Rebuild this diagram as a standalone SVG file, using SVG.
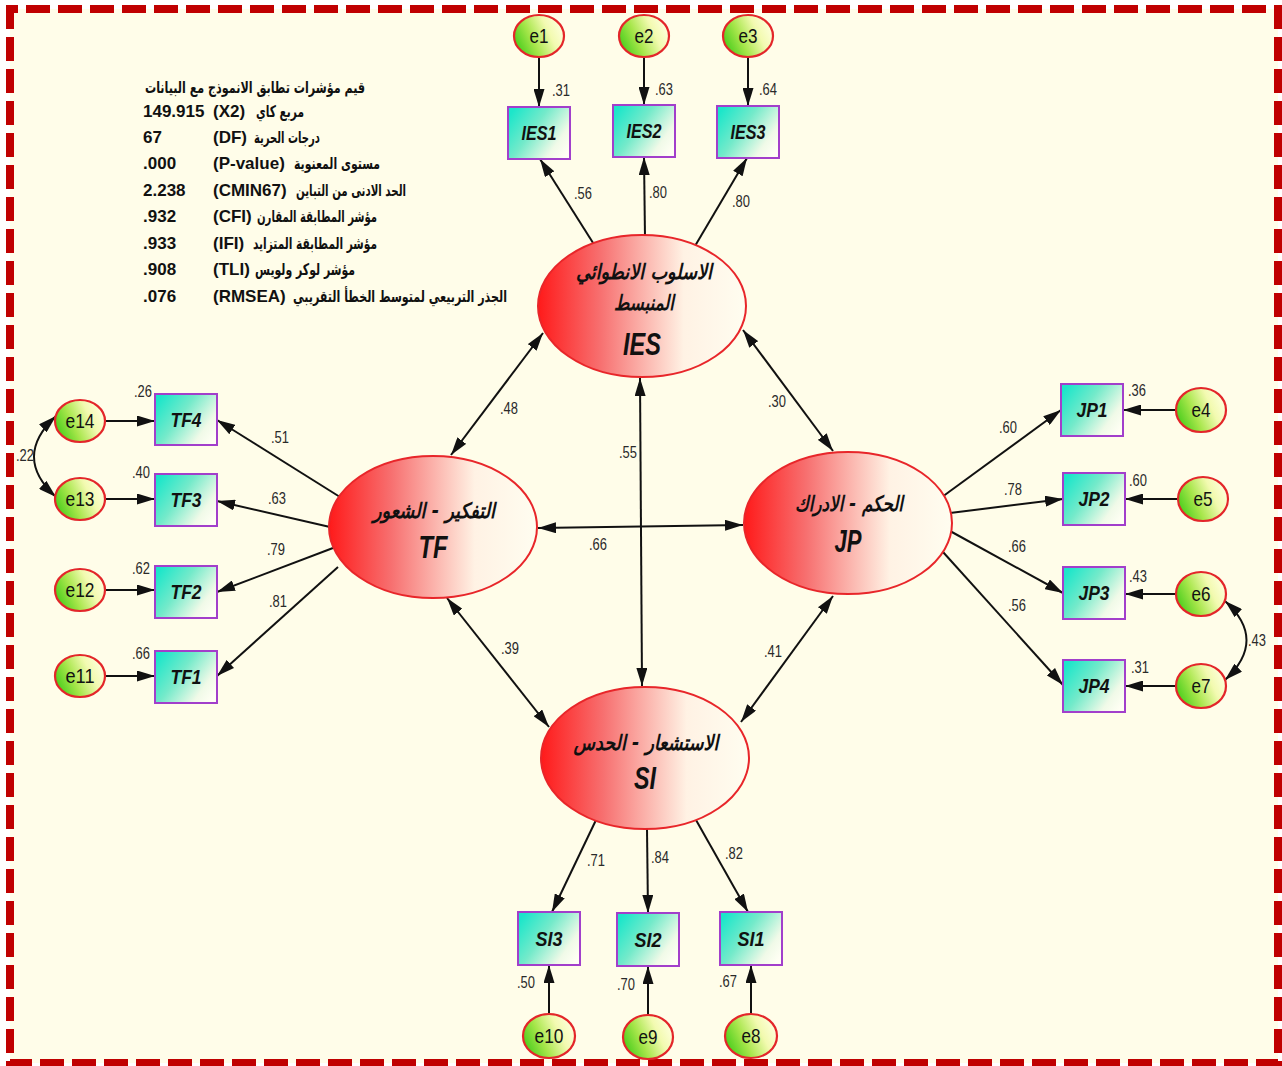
<svg xmlns="http://www.w3.org/2000/svg" width="1282" height="1066" viewBox="0 0 1282 1066">
  <defs>
    <linearGradient id="gLat" x1="0" y1="0" x2="1" y2="0">
      <stop offset="0" stop-color="#FF1A1A"/>
      <stop offset="0.3" stop-color="#F77070"/>
      <stop offset="0.7" stop-color="#FFF2E4"/>
      <stop offset="1" stop-color="#FFFDF0"/>
    </linearGradient>
    <linearGradient id="gBox" x1="0" y1="0.2" x2="1" y2="0.8">
      <stop offset="0" stop-color="#1CE6CA"/>
      <stop offset="0.4" stop-color="#74EACA"/>
      <stop offset="0.8" stop-color="#F0FAE8"/>
      <stop offset="1" stop-color="#FFFFF4"/>
    </linearGradient>
    <linearGradient id="gErr" x1="0" y1="0.7" x2="1" y2="0.3">
      <stop offset="0" stop-color="#44CC1A"/>
      <stop offset="0.35" stop-color="#A6E64A"/>
      <stop offset="0.7" stop-color="#F2FAB0"/>
      <stop offset="1" stop-color="#FFFFE0"/>
    </linearGradient>
    <marker id="ah" viewBox="0 0 18 11" refX="18" refY="5.5" markerWidth="18" markerHeight="11" markerUnits="userSpaceOnUse" orient="auto-start-reverse">
      <path d="M0,0 L18,5.5 L0,11 z" fill="#111"/>
    </marker>
  </defs>
  <style>
    .err ellipse{fill:url(#gErr);stroke:#E3262A;stroke-width:2.2}
    .obs rect{fill:url(#gBox);stroke:#A23FCB;stroke-width:2}
    .lat ellipse{fill:url(#gLat);stroke:#E8262A;stroke-width:2}
    #edges line,#edges path{stroke:#111;stroke-width:2;fill:none}
    .one{marker-end:url(#ah)}
    .two{marker-start:url(#ah);marker-end:url(#ah)}
    .num{font-family:"Liberation Sans",Arial,sans-serif;font-size:16px;fill:#2a2a2a;text-anchor:middle}
    .ev{font-family:"Liberation Sans",Arial,sans-serif;font-size:21px;fill:#111;text-anchor:middle}
    .ov{font-family:"Liberation Sans",Arial,sans-serif;font-size:21px;font-weight:bold;font-style:italic;fill:#111;text-anchor:middle}
    .lv{font-family:"Liberation Sans",Arial,sans-serif;font-size:32px;font-weight:bold;font-style:italic;fill:#111;text-anchor:middle}
    .ar{font-family:"DejaVu Sans","Noto Sans",sans-serif;font-size:21px;font-weight:bold;font-style:italic;fill:#111;text-anchor:middle}
    .fit{font-family:"Liberation Sans",Arial,sans-serif;font-size:17px;font-weight:bold;fill:#111}
    .fitar{font-family:"DejaVu Sans","Noto Sans",sans-serif;font-size:16px;font-weight:bold;fill:#111}
  </style>

  <!-- page and dashed frame -->
  <rect x="0" y="0" width="1282" height="1066" fill="#FFFFFF"/>
  <rect x="10" y="9" width="1268" height="1054" fill="#FFFDE9" stroke="#C00000" stroke-width="8" stroke-dasharray="24 8" stroke-dashoffset="16"/>

  <!-- model fit summary -->
  <g id="fit-summary">
    <text class="fitar" x="145" y="93" textLength="220" lengthAdjust="spacingAndGlyphs">قيم مؤشرات تطابق الانموذج مع البيانات</text>
    <text class="fit" x="143" y="117">149.915</text>
    <text class="fit" x="213" y="117">(X2)</text>
    <text class="fitar" x="256" y="117" textLength="48" lengthAdjust="spacingAndGlyphs">مربع كاي</text>
    <text class="fit" x="143" y="143">67</text>
    <text class="fit" x="213" y="143">(DF)</text>
    <text class="fitar" x="254" y="143" textLength="66" lengthAdjust="spacingAndGlyphs">درجات الحرية</text>
    <text class="fit" x="143" y="169">.000</text>
    <text class="fit" x="213" y="169">(P-value)</text>
    <text class="fitar" x="294" y="169" textLength="86" lengthAdjust="spacingAndGlyphs">مستوى المعنوية</text>
    <text class="fit" x="143" y="196">2.238</text>
    <text class="fit" x="213" y="196">(CMIN67)</text>
    <text class="fitar" x="296" y="196" textLength="110" lengthAdjust="spacingAndGlyphs">الحد الادنى من التباين</text>
    <text class="fit" x="143" y="222">.932</text>
    <text class="fit" x="213" y="222">(CFI)</text>
    <text class="fitar" x="257" y="222" textLength="120" lengthAdjust="spacingAndGlyphs">مؤشر المطابقة المقارن</text>
    <text class="fit" x="143" y="249">.933</text>
    <text class="fit" x="213" y="249">(IFI)</text>
    <text class="fitar" x="253" y="249" textLength="124" lengthAdjust="spacingAndGlyphs">مؤشر المطابقة المتزايد</text>
    <text class="fit" x="143" y="275">.908</text>
    <text class="fit" x="213" y="275">(TLI)</text>
    <text class="fitar" x="255" y="275" textLength="100" lengthAdjust="spacingAndGlyphs">مؤشر لوكر ولويس</text>
    <text class="fit" x="143" y="302">.076</text>
    <text class="fit" x="213" y="302">(RMSEA)</text>
    <text class="fitar" x="293" y="302" textLength="214" lengthAdjust="spacingAndGlyphs">الجذر التربيعي لمتوسط الخطأ التقريبي</text>
  </g>

  <!-- paths and covariances -->
  <g id="edges">
    <!-- error terms to indicators -->
    <line class="one" x1="539" y1="57" x2="539" y2="107"/>
    <line class="one" x1="644" y1="57" x2="644" y2="105"/>
    <line class="one" x1="748" y1="57" x2="748" y2="106"/>
    <line class="one" x1="105" y1="421" x2="155" y2="421"/>
    <line class="one" x1="105" y1="499" x2="155" y2="499"/>
    <line class="one" x1="105" y1="590" x2="155" y2="590"/>
    <line class="one" x1="105" y1="676" x2="155" y2="676"/>
    <line class="one" x1="1176" y1="410" x2="1123" y2="410"/>
    <line class="one" x1="1178" y1="499" x2="1125" y2="499"/>
    <line class="one" x1="1176" y1="594" x2="1125" y2="594"/>
    <line class="one" x1="1176" y1="686" x2="1125" y2="686"/>
    <line class="one" x1="549" y1="1014" x2="549" y2="965"/>
    <line class="one" x1="648" y1="1015" x2="648" y2="966"/>
    <line class="one" x1="751" y1="1014" x2="751" y2="965"/>
    <!-- loadings -->
    <line class="one" x1="595" y1="246" x2="540" y2="159"/>
    <line class="one" x1="645" y1="238" x2="644" y2="157"/>
    <line class="one" x1="695" y1="246" x2="747" y2="158"/>
    <line class="one" x1="340" y1="497" x2="217" y2="420"/>
    <line class="one" x1="330" y1="527" x2="217" y2="501"/>
    <line class="one" x1="333" y1="548" x2="217" y2="592"/>
    <line class="one" x1="338" y1="567" x2="217" y2="676"/>
    <line class="one" x1="942" y1="497" x2="1061" y2="410"/>
    <line class="one" x1="950" y1="513" x2="1063" y2="499"/>
    <line class="one" x1="950" y1="531" x2="1063" y2="593"/>
    <line class="one" x1="943" y1="552" x2="1063" y2="685"/>
    <line class="one" x1="596" y1="820" x2="552" y2="912"/>
    <line class="one" x1="647" y1="829" x2="648" y2="913"/>
    <line class="one" x1="696" y1="820" x2="748" y2="912"/>
    <!-- latent covariances -->
    <line class="two" x1="543" y1="333" x2="451" y2="455"/>
    <line class="two" x1="743" y1="330" x2="833" y2="451"/>
    <line class="two" x1="640" y1="378" x2="642" y2="686"/>
    <line class="two" x1="538" y1="528" x2="743" y2="525"/>
    <line class="two" x1="447" y1="598" x2="549" y2="727"/>
    <line class="two" x1="833" y1="596" x2="741" y2="722"/>
    <!-- error covariances -->
    <path class="two" d="M56,416 Q12,457 56,497"/>
    <path class="two" d="M1225,601 Q1268,640 1225,680"/>
  </g>

  <!-- path coefficients and squared multiple correlations -->
  <g id="estimates">
    <text class="num" x="561" y="96" textLength="18" lengthAdjust="spacingAndGlyphs">.31</text>
    <text class="num" x="664" y="95" textLength="18" lengthAdjust="spacingAndGlyphs">.63</text>
    <text class="num" x="768" y="95" textLength="18" lengthAdjust="spacingAndGlyphs">.64</text>
    <text class="num" x="583" y="199" textLength="18" lengthAdjust="spacingAndGlyphs">.56</text>
    <text class="num" x="658" y="198" textLength="18" lengthAdjust="spacingAndGlyphs">.80</text>
    <text class="num" x="741" y="207" textLength="18" lengthAdjust="spacingAndGlyphs">.80</text>
    <text class="num" x="509" y="414" textLength="18" lengthAdjust="spacingAndGlyphs">.48</text>
    <text class="num" x="777" y="407" textLength="18" lengthAdjust="spacingAndGlyphs">.30</text>
    <text class="num" x="628" y="458" textLength="18" lengthAdjust="spacingAndGlyphs">.55</text>
    <text class="num" x="598" y="550" textLength="18" lengthAdjust="spacingAndGlyphs">.66</text>
    <text class="num" x="510" y="654" textLength="18" lengthAdjust="spacingAndGlyphs">.39</text>
    <text class="num" x="773" y="657" textLength="18" lengthAdjust="spacingAndGlyphs">.41</text>
    <text class="num" x="143" y="397" textLength="18" lengthAdjust="spacingAndGlyphs">.26</text>
    <text class="num" x="141" y="478" textLength="18" lengthAdjust="spacingAndGlyphs">.40</text>
    <text class="num" x="141" y="574" textLength="18" lengthAdjust="spacingAndGlyphs">.62</text>
    <text class="num" x="141" y="659" textLength="18" lengthAdjust="spacingAndGlyphs">.66</text>
    <text class="num" x="25" y="461" textLength="18" lengthAdjust="spacingAndGlyphs">.22</text>
    <text class="num" x="280" y="443" textLength="18" lengthAdjust="spacingAndGlyphs">.51</text>
    <text class="num" x="277" y="504" textLength="18" lengthAdjust="spacingAndGlyphs">.63</text>
    <text class="num" x="276" y="555" textLength="18" lengthAdjust="spacingAndGlyphs">.79</text>
    <text class="num" x="278" y="607" textLength="18" lengthAdjust="spacingAndGlyphs">.81</text>
    <text class="num" x="1137" y="396" textLength="18" lengthAdjust="spacingAndGlyphs">.36</text>
    <text class="num" x="1138" y="486" textLength="18" lengthAdjust="spacingAndGlyphs">.60</text>
    <text class="num" x="1138" y="582" textLength="18" lengthAdjust="spacingAndGlyphs">.43</text>
    <text class="num" x="1140" y="673" textLength="18" lengthAdjust="spacingAndGlyphs">.31</text>
    <text class="num" x="1257" y="646" textLength="18" lengthAdjust="spacingAndGlyphs">.43</text>
    <text class="num" x="1008" y="433" textLength="18" lengthAdjust="spacingAndGlyphs">.60</text>
    <text class="num" x="1013" y="495" textLength="18" lengthAdjust="spacingAndGlyphs">.78</text>
    <text class="num" x="1017" y="552" textLength="18" lengthAdjust="spacingAndGlyphs">.66</text>
    <text class="num" x="1017" y="611" textLength="18" lengthAdjust="spacingAndGlyphs">.56</text>
    <text class="num" x="596" y="866" textLength="18" lengthAdjust="spacingAndGlyphs">.71</text>
    <text class="num" x="660" y="863" textLength="18" lengthAdjust="spacingAndGlyphs">.84</text>
    <text class="num" x="734" y="859" textLength="18" lengthAdjust="spacingAndGlyphs">.82</text>
    <text class="num" x="526" y="988" textLength="18" lengthAdjust="spacingAndGlyphs">.50</text>
    <text class="num" x="626" y="990" textLength="18" lengthAdjust="spacingAndGlyphs">.70</text>
    <text class="num" x="728" y="987" textLength="18" lengthAdjust="spacingAndGlyphs">.67</text>
  </g>

  <!-- latent factors -->
  <g id="IES" class="lat">
    <ellipse cx="642" cy="306" rx="104" ry="71"/>
    <text class="ar" x="644" y="279" textLength="136" lengthAdjust="spacingAndGlyphs">الاسلوب الانطوائي</text>
    <text class="ar" x="644" y="310" textLength="60" lengthAdjust="spacingAndGlyphs">المنبسط</text>
    <text class="lv" x="642" y="355" textLength="38" lengthAdjust="spacingAndGlyphs">IES</text>
  </g>
  <g id="TF" class="lat">
    <ellipse cx="433" cy="527" rx="104" ry="71"/>
    <text class="ar" x="434" y="518" textLength="122" lengthAdjust="spacingAndGlyphs">التفكير - الشعور</text>
    <text class="lv" x="433" y="558" textLength="29" lengthAdjust="spacingAndGlyphs">TF</text>
  </g>
  <g id="JP" class="lat">
    <ellipse cx="848" cy="523" rx="104" ry="71"/>
    <text class="ar" x="849" y="511" textLength="108" lengthAdjust="spacingAndGlyphs">الحكم - الادراك</text>
    <text class="lv" x="848" y="552" textLength="27" lengthAdjust="spacingAndGlyphs">JP</text>
  </g>
  <g id="SI" class="lat">
    <ellipse cx="645" cy="758" rx="104" ry="71"/>
    <text class="ar" x="646" y="750" textLength="145" lengthAdjust="spacingAndGlyphs">الاستشعار - الحدس</text>
    <text class="lv" x="645" y="789" textLength="22" lengthAdjust="spacingAndGlyphs">SI</text>
  </g>

  <!-- observed indicators -->
  <g id="IES1" class="obs"><rect x="508" y="107" width="62" height="52"/><text class="ov" x="539" y="140" textLength="35" lengthAdjust="spacingAndGlyphs">IES1</text></g>
  <g id="IES2" class="obs"><rect x="613" y="105" width="62" height="52"/><text class="ov" x="644" y="138" textLength="35" lengthAdjust="spacingAndGlyphs">IES2</text></g>
  <g id="IES3" class="obs"><rect x="717" y="106" width="62" height="52"/><text class="ov" x="748" y="139" textLength="35" lengthAdjust="spacingAndGlyphs">IES3</text></g>
  <g id="TF4" class="obs"><rect x="155" y="394" width="62" height="51"/><text class="ov" x="186" y="427" textLength="31" lengthAdjust="spacingAndGlyphs">TF4</text></g>
  <g id="TF3" class="obs"><rect x="155" y="474" width="62" height="52"/><text class="ov" x="186" y="507" textLength="31" lengthAdjust="spacingAndGlyphs">TF3</text></g>
  <g id="TF2" class="obs"><rect x="155" y="566" width="62" height="52"/><text class="ov" x="186" y="599" textLength="31" lengthAdjust="spacingAndGlyphs">TF2</text></g>
  <g id="TF1" class="obs"><rect x="155" y="651" width="62" height="52"/><text class="ov" x="186" y="684" textLength="31" lengthAdjust="spacingAndGlyphs">TF1</text></g>
  <g id="JP1" class="obs"><rect x="1061" y="384" width="62" height="52"/><text class="ov" x="1092" y="417" textLength="31" lengthAdjust="spacingAndGlyphs">JP1</text></g>
  <g id="JP2" class="obs"><rect x="1063" y="473" width="62" height="52"/><text class="ov" x="1094" y="506" textLength="31" lengthAdjust="spacingAndGlyphs">JP2</text></g>
  <g id="JP3" class="obs"><rect x="1063" y="567" width="62" height="52"/><text class="ov" x="1094" y="600" textLength="31" lengthAdjust="spacingAndGlyphs">JP3</text></g>
  <g id="JP4" class="obs"><rect x="1063" y="660" width="62" height="52"/><text class="ov" x="1094" y="693" textLength="31" lengthAdjust="spacingAndGlyphs">JP4</text></g>
  <g id="SI3" class="obs"><rect x="518" y="912" width="62" height="53"/><text class="ov" x="549" y="946" textLength="27" lengthAdjust="spacingAndGlyphs">SI3</text></g>
  <g id="SI2" class="obs"><rect x="617" y="913" width="62" height="53"/><text class="ov" x="648" y="947" textLength="27" lengthAdjust="spacingAndGlyphs">SI2</text></g>
  <g id="SI1" class="obs"><rect x="720" y="912" width="62" height="53"/><text class="ov" x="751" y="946" textLength="27" lengthAdjust="spacingAndGlyphs">SI1</text></g>

  <!-- error terms -->
  <g id="e1" class="err"><ellipse cx="539" cy="36" rx="25" ry="21"/><text class="ev" x="539" y="43" textLength="19" lengthAdjust="spacingAndGlyphs">e1</text></g>
  <g id="e2" class="err"><ellipse cx="644" cy="36" rx="25" ry="21"/><text class="ev" x="644" y="43" textLength="19" lengthAdjust="spacingAndGlyphs">e2</text></g>
  <g id="e3" class="err"><ellipse cx="748" cy="36" rx="25" ry="21"/><text class="ev" x="748" y="43" textLength="19" lengthAdjust="spacingAndGlyphs">e3</text></g>
  <g id="e14" class="err"><ellipse cx="80" cy="421" rx="25" ry="21"/><text class="ev" x="80" y="428" textLength="29" lengthAdjust="spacingAndGlyphs">e14</text></g>
  <g id="e13" class="err"><ellipse cx="80" cy="499" rx="25" ry="21"/><text class="ev" x="80" y="506" textLength="29" lengthAdjust="spacingAndGlyphs">e13</text></g>
  <g id="e12" class="err"><ellipse cx="80" cy="590" rx="25" ry="21"/><text class="ev" x="80" y="597" textLength="29" lengthAdjust="spacingAndGlyphs">e12</text></g>
  <g id="e11" class="err"><ellipse cx="80" cy="676" rx="25" ry="21"/><text class="ev" x="80" y="683" textLength="29" lengthAdjust="spacingAndGlyphs">e11</text></g>
  <g id="e4" class="err"><ellipse cx="1201" cy="410" rx="25" ry="22"/><text class="ev" x="1201" y="417" textLength="19" lengthAdjust="spacingAndGlyphs">e4</text></g>
  <g id="e5" class="err"><ellipse cx="1203" cy="499" rx="25" ry="22"/><text class="ev" x="1203" y="506" textLength="19" lengthAdjust="spacingAndGlyphs">e5</text></g>
  <g id="e6" class="err"><ellipse cx="1201" cy="594" rx="25" ry="22"/><text class="ev" x="1201" y="601" textLength="19" lengthAdjust="spacingAndGlyphs">e6</text></g>
  <g id="e7" class="err"><ellipse cx="1201" cy="686" rx="25" ry="22"/><text class="ev" x="1201" y="693" textLength="19" lengthAdjust="spacingAndGlyphs">e7</text></g>
  <g id="e10" class="err"><ellipse cx="549" cy="1036" rx="26" ry="22"/><text class="ev" x="549" y="1043" textLength="29" lengthAdjust="spacingAndGlyphs">e10</text></g>
  <g id="e9" class="err"><ellipse cx="648" cy="1037" rx="25" ry="22"/><text class="ev" x="648" y="1044" textLength="19" lengthAdjust="spacingAndGlyphs">e9</text></g>
  <g id="e8" class="err"><ellipse cx="751" cy="1036" rx="26" ry="22"/><text class="ev" x="751" y="1043" textLength="19" lengthAdjust="spacingAndGlyphs">e8</text></g>
</svg>
